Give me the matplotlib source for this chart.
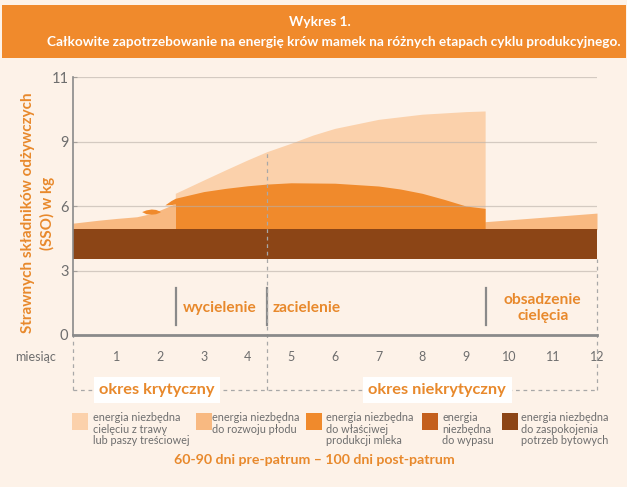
import matplotlib
matplotlib.use("Agg")
import matplotlib.pyplot as plt
from matplotlib.patches import Rectangle

plt.rcParams['font.family'] = ['Lato', 'DejaVu Sans']

# ---------------- data ----------------
months = list(range(1, 13))
y_ticks = [0, 3, 6, 9, 12]
y_ticklabels = ['0', '3', '6', '9', '11']

# maintenance band (potrzeby bytowe)
band_x = [0, 12]
band_low = [3.55, 3.55]
band_high = [4.92, 4.92]

# foetal development (rozwoj plodu) – before calving
fetus_x = [0.0, 0.6, 1.0, 1.47, 1.8, 2.0, 2.2, 2.35]
fetus_top = [5.2, 5.34, 5.42, 5.5, 5.65, 5.81, 5.98, 6.12]

# calf from grass (cieleciu z trawy) – upper light area
calf_x = [2.35, 3.0, 3.5, 4.0, 4.45, 5.0, 5.5, 6.0, 7.0, 8.0, 9.0, 9.44]
calf_top = [6.59, 7.21, 7.68, 8.14, 8.53, 8.92, 9.3, 9.61, 10.03, 10.27, 10.39, 10.42]

# milk production (produkcja mleka)
milk_x = [2.11, 2.25, 2.35, 2.35, 3.0, 3.5, 4.0, 4.45, 5.0, 6.0, 7.0, 7.5, 8.0, 8.5, 9.0, 9.44]
milk_low = [6.05, 6.06, 6.1, 4.92, 4.92, 4.92, 4.92, 4.92, 4.92, 4.92, 4.92, 4.92, 4.92, 4.92, 4.92, 4.92]
milk_top = [6.05, 6.25, 6.36, 6.36, 6.67, 6.82, 6.94, 7.02, 7.08, 7.06, 6.93, 6.79, 6.59, 6.31, 6.0, 5.89]

# small milk spot before calving
spot_x = [1.58, 1.68, 1.8, 1.9, 2.0]
spot_low = [5.74, 5.64, 5.62, 5.64, 5.72]
spot_top = [5.74, 5.82, 5.86, 5.84, 5.76]

# late wedge after weaning
wedge_x = [7.8, 9.44, 12.0]
wedge_top = [4.92, 5.27, 5.67]

# phases
phase_lines = [2.36, 4.45, 9.45]
phase_labels = ['wycielenie', 'zacielenie', 'obsadzenie\ncielęcia']
phase_label_x = [3.37, 4.58, 10.76]
phase_label_ha = ['center', 'left', 'center']

period_split = 4.45
period_labels = ['okres krytyczny', 'okres niekrytyczny']
period_label_x = [1.93, 8.34]

legend_labels = [
    'energia niezbędna\ncielęciu z trawy\nlub paszy treściowej',
    'energia niezbędna\ndo rozwoju płodu',
    'energia niezbędna\ndo właściwej\nprodukcji mleka',
    'energia\nniezbędna\ndo wypasu',
    'energia niezbędna\ndo zaspokojenia\npotrzeb bytowych',
]

title1 = 'Wykres 1.'
title2 = 'Całkowite zapotrzebowanie na energię krów mamek na różnych etapach cyklu produkcyjnego.'
ylabel = 'Strawnych składników odżywczych\n(SSO) w kg'
footer = '60-90 dni pre-patrum – 100 dni post-patrum'

# ---------------- style ----------------
BG = '#FDF2E8'
C_CALF = '#FBD1AB'
C_FETUS = '#F8B981'
C_MILK = '#F08A2C'
C_GRAZE = '#C4601E'
C_MAINT = '#8C4516'
legend_colors = [C_CALF, C_FETUS, C_MILK, C_GRAZE, C_MAINT]
ORANGE_TXT = '#E8892C'
GREY = '#6E6E6E'

W, H = 627, 487
fig = plt.figure(figsize=(W / 100, H / 100), dpi=100, facecolor=BG)

# title banner
fig.patches.append(Rectangle((2 / W, 1 - 58 / H), 624 / W, 53 / H,
                             transform=fig.transFigure, facecolor='#F08A2C',
                             edgecolor='none', zorder=0))
fig.text(320 / W, 1 - 22 / H, title1, color='white', fontsize=9.8,
         fontweight='bold', ha='center', va='center')
fig.text(334 / W, 1 - 42 / H, title2, color='white', fontsize=9.8,
         fontweight='bold', ha='center', va='center')

ax = fig.add_axes([72.6 / W, (H - 335) / H, 524.4 / W, 258 / H])
ax.set_facecolor(BG)
ax.set_xlim(0, 12)
ax.set_ylim(0, 12)

# fills
ax.fill_between(fetus_x, 4.9, fetus_top, color=C_FETUS, lw=0, zorder=2)
ax.fill_between(calf_x, 4.9, calf_top, color=C_CALF, lw=0, zorder=2)
ax.fill_between(wedge_x, 4.9, wedge_top, color=C_FETUS, lw=0, zorder=2)
ax.fill_between(milk_x, milk_low, milk_top, color=C_MILK, lw=0, zorder=3)
ax.fill_between(spot_x, spot_low, spot_top, color=C_MILK, lw=0, zorder=3)
ax.fill_between(band_x, band_low, band_high, color=C_MAINT, lw=0, zorder=4)

# grid
for yv in y_ticks[1:]:
    ax.axhline(yv, color='#B9B0A8', lw=0.9, alpha=0.6, zorder=5)

# spines
for s in ['top', 'right']:
    ax.spines[s].set_visible(False)
ax.spines['left'].set_color('#8A8A8A')
ax.spines['left'].set_linewidth(1.2)
ax.spines['bottom'].set_color('#8A8A8A')
ax.spines['bottom'].set_linewidth(2)
ax.spines['left'].set_zorder(6)
ax.spines['bottom'].set_zorder(6)

ax.set_yticks(y_ticks)
ax.set_yticklabels(y_ticklabels)
ax.tick_params(axis='y', length=3, color='#8A8A8A', labelcolor=GREY,
               labelsize=10.5, pad=3, direction='in')
ax.set_xticks([])

# month labels
for m in months:
    ax.text(m, -1.02, str(m), ha='center', va='center', color=GREY,
            fontsize=9, clip_on=False)
ax.text(-0.38, -1.02, 'miesiąc', ha='right', va='center', color=GREY,
        fontsize=9, clip_on=False)

# phase markers
for xv in phase_lines:
    ax.plot([xv, xv], [0.47, 2.2], color='#8A8A8A', lw=1.6, zorder=6)
for lab, xv, ha in zip(phase_labels, phase_label_x, phase_label_ha):
    ax.text(xv, 1.26, lab, ha=ha, va='center', color=ORANGE_TXT,
            fontsize=11.2, fontweight='bold', linespacing=1.2, zorder=7)

# dashed period frame
dash_kw = dict(color='#A8A8A8', lw=0.9, ls=(0, (3, 3)), clip_on=False, zorder=6)
ax.plot([0, 12], [-2.56, -2.56], **dash_kw)
ax.plot([0, 0], [-2.56, 0], **dash_kw)
ax.plot([12, 12], [-2.56, 3.55], **dash_kw)
ax.plot([period_split, period_split], [-2.56, 8.53], **dash_kw)
for lab, xv in zip(period_labels, period_label_x):
    ax.text(xv, -2.56, lab, ha='center', va='center', color=ORANGE_TXT,
            fontsize=11.8, fontweight='bold', clip_on=False, zorder=8,
            bbox=dict(facecolor='white', edgecolor='none', pad=4))

# y label
fig.text(38 / W, 1 - 213 / H, ylabel, rotation=90, ha='center', va='center',
         color=ORANGE_TXT, fontsize=11, fontweight='bold', linespacing=1.35)

# legend
sw_x = [72, 196, 306, 422, 502]
tx_x = [93, 212, 326, 442, 521]
for c, lab, sx, tx in zip(legend_colors, legend_labels, sw_x, tx_x):
    fig.patches.append(Rectangle((sx / W, 1 - 430 / H), 16 / W, 17 / H,
                                 transform=fig.transFigure, facecolor=c,
                                 edgecolor='none'))
    fig.text(tx / W, 1 - 412 / H, lab, ha='left', va='top', color=GREY,
             fontsize=7.8, linespacing=1.08)

fig.text(314 / W, 1 - 460 / H, footer, ha='center', va='center',
         color=ORANGE_TXT, fontsize=10.2, fontweight='bold')

fig.savefig('out.png', dpi=100, facecolor=BG)
